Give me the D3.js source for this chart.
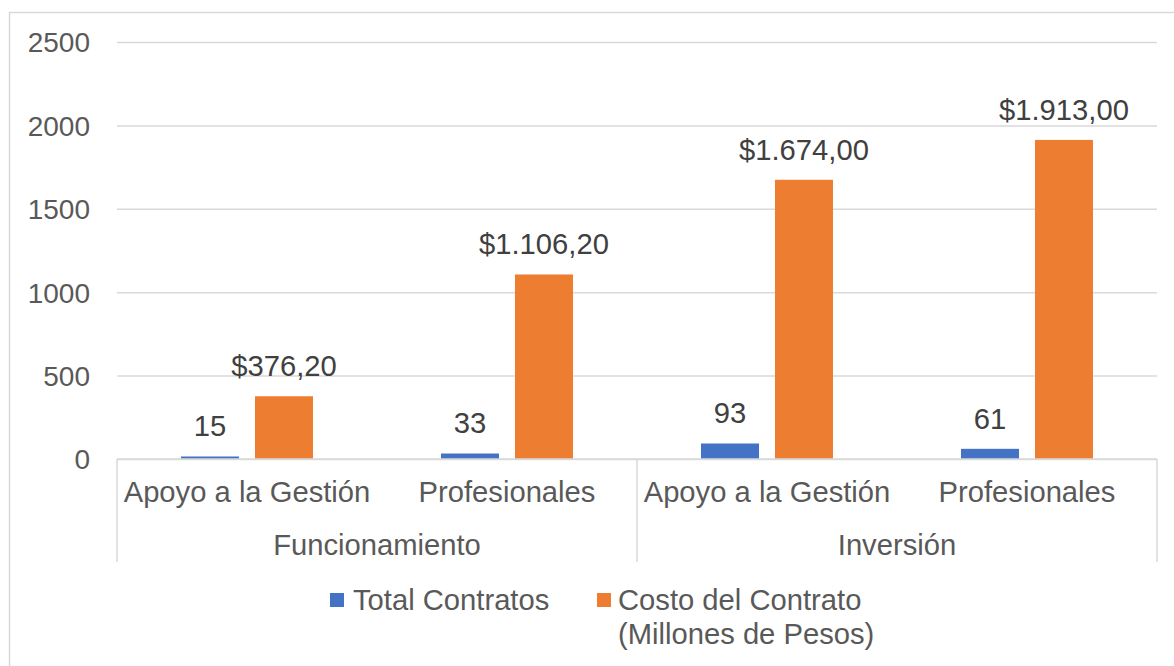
<!DOCTYPE html>
<html>
<head>
<meta charset="utf-8">
<script src="https://cdn.jsdelivr.net/npm/d3@7"></script>
<style>
  html, body { margin: 0; padding: 0; background: #fff; }
  svg { display: block; font-family: "Liberation Sans", Arial, sans-serif; }
</style>
</head>
<body>
<svg id="chart" width="1174" height="666"></svg>
<script>
const groups = ["Funcionamiento", "Funcionamiento", "Inversión", "Inversión"];
const groupNames = ["Funcionamiento", "Inversión"];
const subcategories = ["Apoyo a la Gestión", "Profesionales", "Apoyo a la Gestión", "Profesionales"];
const seriesNames = ["Total Contratos", "Costo del Contrato (Millones de Pesos)"];
const totalContratos = [15, 33, 93, 61];
const costoContrato = [376.2, 1106.2, 1674, 1913];
const yTicks = [0, 500, 1000, 1500, 2000, 2500];
const colors = ["#4472C4", "#ED7D31"];

(function () {
const svg = d3.select("#chart");
const textColor = "#595959";
const plotLeft = 117, plotRight = 1157, plotTop = 42, plotBottom = 459;
const fs = 29.2;

// outer border
svg.append("rect").attr("x", 9.5).attr("y", 12.5).attr("width", 1180).attr("height", 680)
  .attr("fill", "none").attr("stroke", "#d9d9d9").attr("stroke-width", 1.5);

const y = d3.scaleLinear().domain([0, 2500]).range([plotBottom, plotTop]);
const idx = d3.range(subcategories.length);
const x0 = d3.scaleBand().domain(idx).range([plotLeft, plotRight]).paddingInner(0).paddingOuter(0);
const innerPad = x0.bandwidth() * 0.2462;
const x1 = d3.scaleBand().domain([0, 1]).range([innerPad, x0.bandwidth() - innerPad]).paddingInner(0.216);

// gridlines
const yAxis = d3.axisLeft(y).tickValues(yTicks).tickSize(-(plotRight - plotLeft)).tickFormat(d => d);
const gy = svg.append("g").attr("transform", `translate(${plotLeft},0)`).call(yAxis);
gy.select(".domain").remove();
gy.attr("font-family", null);
gy.selectAll(".tick line").attr("stroke", "#d9d9d9").attr("stroke-width", 1.5);
gy.selectAll(".tick text").attr("fill", textColor).attr("font-size", 28)
  .attr("x", -27).attr("dy", "0.35em");

// bars
const seriesData = [totalContratos, costoContrato];
const fmtLocale = d3.formatLocale({decimal: ",", thousands: ".", grouping: [3], currency: ["$", ""]});
const fmtCost = fmtLocale.format("$,.2f");
const labelFormats = [d => String(d), fmtCost];

seriesData.forEach((vals, s) => {
  const g = svg.append("g");
  g.selectAll("rect").data(vals).join("rect")
    .attr("x", (d, i) => x0(i) + x1(s))
    .attr("y", d => y(d))
    .attr("width", x1.bandwidth())
    .attr("height", d => y(0) - y(d))
    .attr("fill", colors[s]);
  g.selectAll("text").data(vals).join("text")
    .attr("x", (d, i) => x0(i) + x1(s) + x1.bandwidth() / 2)
    .attr("y", d => y(d) - 20)
    .attr("text-anchor", "middle")
    .attr("font-size", fs)
    .attr("fill", "#404040")
    .text(labelFormats[s]);
});

// baseline
svg.append("line").attr("x1", plotLeft).attr("x2", plotRight).attr("y1", y(0)).attr("y2", y(0))
  .attr("stroke", "#d9d9d9").attr("stroke-width", 1.5);

// category axis separators
const sepBottom = 562;
[plotLeft, x0(2), plotRight].forEach(xx => {
  svg.append("line").attr("x1", xx).attr("x2", xx).attr("y1", y(0)).attr("y2", sepBottom)
    .attr("stroke", "#d9d9d9").attr("stroke-width", 1.5);
});

// subcategory labels
svg.append("g").selectAll("text").data(subcategories).join("text")
  .attr("x", (d, i) => x0(i) + x0.bandwidth() / 2)
  .attr("y", 502)
  .attr("text-anchor", "middle")
  .attr("font-size", fs)
  .attr("fill", textColor)
  .text(d => d);

// group labels
svg.append("g").selectAll("text").data(groupNames).join("text")
  .attr("x", g => {
    const ii = idx.filter(i => groups[i] === g);
    return (x0(ii[0]) + x0(ii[ii.length - 1]) + x0.bandwidth()) / 2;
  })
  .attr("y", 555)
  .attr("text-anchor", "middle")
  .attr("font-size", fs)
  .attr("fill", textColor)
  .text(d => d);

// legend
const lg = svg.append("g");
lg.append("rect").attr("x", 330).attr("y", 593).attr("width", 14).attr("height", 14).attr("fill", colors[0]);
lg.append("text").attr("x", 353).attr("y", 610).attr("font-size", fs).attr("fill", textColor).text(seriesNames[0]);
lg.append("rect").attr("x", 597).attr("y", 593).attr("width", 14).attr("height", 14).attr("fill", colors[1]);
lg.append("text").attr("x", 618).attr("y", 610).attr("font-size", fs).attr("fill", textColor).text("Costo del Contrato");
lg.append("text").attr("x", 618).attr("y", 644).attr("font-size", fs).attr("fill", textColor).text("(Millones de Pesos)");
})();
</script>
</body>
</html>
